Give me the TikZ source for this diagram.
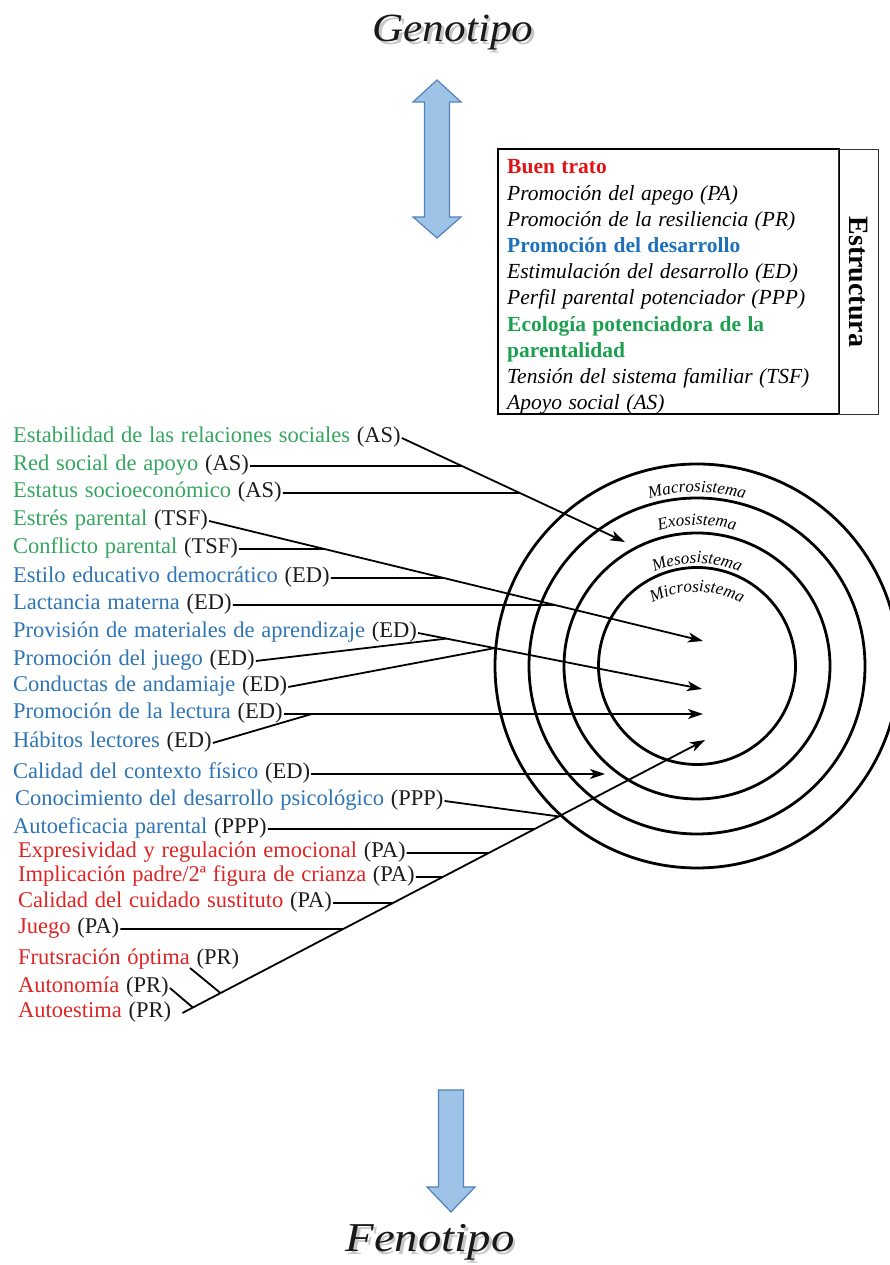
\documentclass[tikz,border=0pt]{standalone}
\usepackage{fontspec}
\usepackage{graphicx}
\setmainfont{Liberation Serif}[WordSpace=1.2]
\usetikzlibrary{arrows.meta,calc,decorations.text}

\definecolor{lgreen}{RGB}{52,166,96}
\definecolor{lblue}{RGB}{46,117,182}
\definecolor{lred}{RGB}{222,36,36}
\definecolor{hred}{RGB}{224,20,20}
\definecolor{hblue}{RGB}{30,112,186}
\definecolor{hgreen}{RGB}{28,160,80}
\definecolor{codeink}{RGB}{28,28,28}
\definecolor{arrowfill}{RGB}{157,195,230}
\definecolor{arrowedge}{RGB}{84,130,186}

\newcommand\ringfont{\fontsize{17}{17}\selectfont\itshape}
\newcommand\tagcode[1]{\textcolor{codeink}{(#1)}}
% horizontal feeder line from a list item to a sloped collector line
\newcommand\hjoin[3]{%
  \coordinate (#1-far) at ($(#1.east)+(500,0)$);
  \draw[link] (#1.east) -- (intersection of #1.east--#1-far and #2--#3);}

\begin{document}
\begin{tikzpicture}[x=1pt,y=1pt,
  item/.style={anchor=west, inner xsep=1pt, inner ysep=0pt, text height=14pt,
    text depth=4pt, font=\fontsize{22.5}{26}\selectfont},
  legendline/.style={anchor=base west, inner sep=0pt, font=\fontsize{21.5}{26}\selectfont\itshape},
  legendhead/.style={anchor=base west, inner sep=0pt, font=\fontsize{21.5}{26}\selectfont\bfseries},
  link/.style={line width=1.8pt, black},
  tolink/.style={link, -{Stealth[length=15pt,width=10pt,inset=4pt]}},
  ring/.style={line width=2.8pt, black},
  blockarrow/.style={fill=arrowfill, draw=arrowedge, line width=1.2pt, line join=miter},
  title/.style={inner sep=0pt, anchor=base, font=\fontsize{40}{40}\selectfont\itshape},
]
\useasboundingbox (0,0) rectangle (890,1265);
\fill[white] (0,0) rectangle (890,1265);

% ---- titles ----
\node[title, text=black!40, opacity=.55] (genoshadow) at (455.5,1220.5) {\scalebox{1.08}[1]{Genotipo}};
\node[title, text=black!90] (geno) at (453,1223) {\scalebox{1.08}[1]{Genotipo}};
\node[title, text=black!40, opacity=.55, font=\fontsize{41}{41}\selectfont\itshape] (fenoshadow) at (432.5,10.5) {\scalebox{1.14}[1]{Fenotipo}};
\node[title, text=black!90, font=\fontsize{41}{41}\selectfont\itshape] (feno) at (430,13) {\scalebox{1.14}[1]{Fenotipo}};

% ---- block arrows ----
\draw[blockarrow] (437,1185) -- (461,1163) -- (449.5,1163) -- (449.5,1048) -- (461,1048)
  -- (437,1027) -- (413,1048) -- (424.5,1048) -- (424.5,1163) -- (413,1163) -- cycle;
\draw[blockarrow] (438.5,175) -- (463.5,175) -- (463.5,78) -- (475,78) -- (451,53)
  -- (427,78) -- (438.5,78) -- cycle;

% ---- legend box ----
\node[draw, line width=2pt, minimum width=341pt, minimum height=265pt, anchor=south west, inner sep=0pt] (legend) at (497,850) {};
\node[draw=black!80, line width=1.1pt, minimum width=40pt, minimum height=265pt, anchor=south west, inner sep=0pt] (structbox) at (838,850) {};
\node[rotate=-90, inner sep=0pt, font=\fontsize{28}{28}\selectfont\bfseries] (estructura) at (structbox.center) {Estructura};

\node[legendhead, text=hred] (b1) at (507,1091) {Buen trato};
\node[legendline] (b2) at (507,1064.8) {Promoción del apego (PA)};
\node[legendline] (b3) at (507,1038.6) {Promoción de la resiliencia (PR)};
\node[legendhead, text=hblue] (b4) at (507,1012.4) {Promoción del desarrollo};
\node[legendline] (b5) at (507,986.2) {Estimulación del desarrollo (ED)};
\node[legendline] (b6) at (507,960) {Perfil parental potenciador (PPP)};
\node[legendhead, text=hgreen] (b7) at (507,933.8) {Ecología potenciadora de la};
\node[legendhead, text=hgreen] (b8) at (507,907.6) {parentalidad};
\node[legendline] (b9) at (507,881.4) {Tensión del sistema familiar (TSF)};
\node[legendline] (b10) at (507,855.2) {Apoyo social (AS)};

% ---- ecological rings ----
\coordinate (cen) at (697,599);
\coordinate (microcen) at (697,575);
\begin{scope}
  \clip (0,0) rectangle (890,1265);
  \draw[ring] (cen) circle[radius=202];
  \draw[ring] (cen) circle[radius=168];
  \draw[ring] (cen) circle[radius=133];
  \draw[ring] (cen) circle[radius=98.5];
\end{scope}
\path[decorate, decoration={text along path, text align=center, text={|\ringfont|Macrosistema}}]
  ($(cen)+(113:174)$) arc[start angle=113, end angle=67, radius=174];
\path[decorate, decoration={text along path, text align=center, text={|\ringfont|Exosistema}}]
  ($(cen)+(115:141)$) arc[start angle=115, end angle=65, radius=141];
\path[decorate, decoration={text along path, text align=center, text={|\ringfont|Mesosistema}}]
  ($(cen)+(120:103)$) arc[start angle=120, end angle=60, radius=103];
\path[decorate, decoration={text along path, text align=center, text={|\ringfont|Microsistema}}]
  ($(microcen)+(125:98)$) arc[start angle=125, end angle=55, radius=98];

% ---- list of factors ----
\node[item,text=lgreen] (estab) at (12,827) {Estabilidad de las relaciones sociales \tagcode{AS}};
\node[item,text=lgreen] (redsoc) at (12,799) {Red social de apoyo \tagcode{AS}};
\node[item,text=lgreen] (estatus) at (12,772) {Estatus socioeconómico \tagcode{AS}};
\node[item,text=lgreen] (estres) at (12,744) {Estrés parental \tagcode{TSF}};
\node[item,text=lgreen] (conflicto) at (12,716) {Conflicto parental \tagcode{TSF}};
\node[item,text=lblue] (estilo) at (12,687) {Estilo educativo democrático \tagcode{ED}};
\node[item,text=lblue] (lactancia) at (12,660) {Lactancia materna \tagcode{ED}};
\node[item,text=lblue] (provision) at (12,632) {Provisión de materiales de aprendizaje \tagcode{ED}};
\node[item,text=lblue] (juegoed) at (12,604) {Promoción del juego \tagcode{ED}};
\node[item,text=lblue] (andamiaje) at (12,578) {Conductas de andamiaje \tagcode{ED}};
\node[item,text=lblue] (lectura) at (12,551) {Promoción de la lectura \tagcode{ED}};
\node[item,text=lblue] (habitos) at (12,522) {Hábitos lectores \tagcode{ED}};
\node[item,text=lblue] (contexto) at (12,491) {Calidad del contexto físico \tagcode{ED}};
\node[item,text=lblue] (conoc) at (14,464) {Conocimiento del desarrollo psicológico \tagcode{PPP}};
\node[item,text=lblue] (autoef) at (12,436) {Autoeficacia parental \tagcode{PPP}};
\node[item,text=lred] (expres) at (17,412) {Expresividad y regulación emocional \tagcode{PA}};
\node[item,text=lred] (implic) at (17,388) {Implicación padre/2ª figura de crianza \tagcode{PA}};
\node[item,text=lred] (cuidado) at (17,362) {Calidad del cuidado sustituto \tagcode{PA}};
\node[item,text=lred] (juegopa) at (17,336) {Juego \tagcode{PA}};
\node[item,text=lred] (frustr) at (17,305) {Frutsración óptima \tagcode{PR}};
\node[item,text=lred] (autonom) at (17,277) {Autonomía \tagcode{PR}};
\node[item,text=lred] (autoest) at (17,252) {Autoestima \tagcode{PR}};

% ---- connectors ----
\coordinate (tipA) at (625,723);
\coordinate (tipB) at (703,624);
\coordinate (tipC) at (702,576);
\coordinate (tipD) at (703,552);
\coordinate (tipE) at (605,490);
\coordinate (tipF) at (705,525);

\draw[tolink] (estab.east) -- (tipA);
\hjoin{redsoc}{estab.east}{tipA}
\hjoin{estatus}{estab.east}{tipA}

\draw[tolink] (estres.east) -- (tipB);
\hjoin{conflicto}{estres.east}{tipB}
\hjoin{estilo}{estres.east}{tipB}
\hjoin{lactancia}{estres.east}{tipB}

\draw[tolink] (provision.east) -- (tipC);
\draw[link] (juegoed.east) -- ($(provision.east)!0.1!(tipC)$);
\draw[link] (andamiaje.east) -- ($(provision.east)!0.27!(tipC)$);

\draw[tolink] (lectura.east) -- (lectura.east -| tipD);
\coordinate (lectjoin) at ($(lectura.east)+(28,0)$);
\draw[link] (habitos.east) -- (lectjoin);

\draw[tolink] (contexto.east) -- (contexto.east -| tipE);

\coordinate (dstart) at ($(autoest.east)+(10,0)$);
\draw[tolink] (dstart) -- (tipF);
\draw[link] (conoc.east) -- ($(dstart)!0.72!(tipF)$);
\hjoin{autoef}{dstart}{tipF}
\hjoin{expres}{dstart}{tipF}
\hjoin{implic}{dstart}{tipF}
\hjoin{cuidado}{dstart}{tipF}
\hjoin{juegopa}{dstart}{tipF}
\coordinate (frtick) at (190,297);
\draw[link] (frtick) -- ($(dstart)!0.073!(tipF)$);
\draw[link] (autonom.east) -- ($(dstart)!0.02!(tipF)$);
\end{tikzpicture}
\end{document}
